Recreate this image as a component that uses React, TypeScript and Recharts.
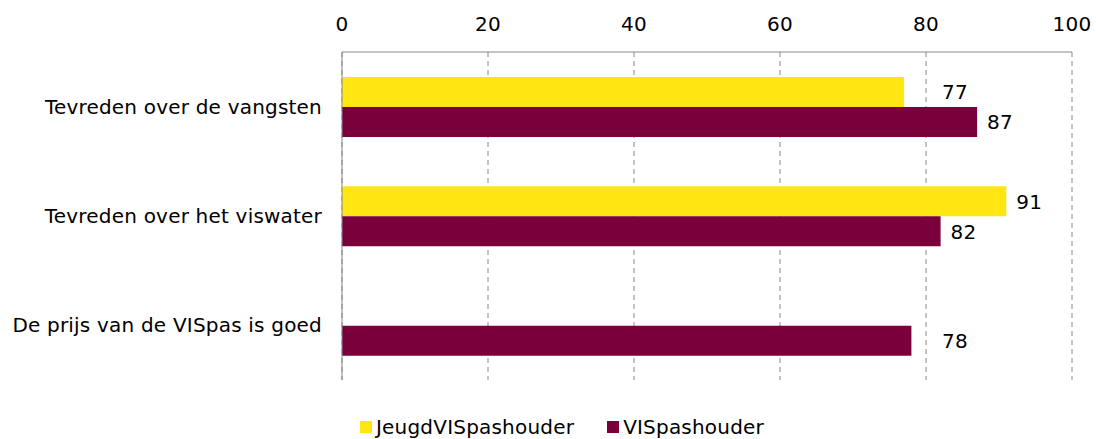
import React from "react";
import { BarChart, Bar, XAxis, YAxis, CartesianGrid, LabelList, Legend } from "recharts";

const categories = ["Tevreden over de vangsten", "Tevreden over het viswater", "De prijs van de VISpas is goed"];
const jeugdValues: (number | null)[] = [77, 91, null];
const visValues: number[] = [87, 82, 78];
const xTicks = [0, 20, 40, 60, 80, 100];
const seriesNames = ["JeugdVISpashouder", "VISpashouder"];
const colors = ["#FFE512", "#7A003C"];

const data = categories.map((c, i) => ({ name: c, jeugd: jeugdValues[i], vis: visValues[i] }));

const FONT = "'DejaVu Sans', Verdana, sans-serif";
const FS = 20;
const LS = "0.2px";

const ValueLabel = (props: any) => {
  const { x, y, width, height, value } = props;
  if (value === null || value === undefined) return null;
  const ppu = width / value;
  const textW = String(value).length * 12.8;
  let start = x + width + 10;
  for (const t of xTicks) {
    const gx = x + t * ppu;
    if (start < gx + 3 && start + textW > gx - 3) start = gx + 16;
  }
  return (
    <text x={start} y={y + height / 2} dy="0.36em" fontSize={FS} fontFamily={FONT} letterSpacing={LS} fill="#000">
      {value}
    </text>
  );
};

const LegendContent = () => (
  <div style={{ display: "flex", fontFamily: FONT, fontSize: FS, letterSpacing: LS, color: "#000", paddingLeft: 360, lineHeight: "24px" }}>
    {seriesNames.map((n, i) => (
      <div key={n} style={{ display: "flex", alignItems: "center", marginRight: 33 }}>
        <span style={{ display: "inline-block", width: 12, height: 12, background: colors[i], marginRight: 4 }} />
        <span>{n}</span>
      </div>
    ))}
  </div>
);

export default function App() {
  return (
    <div style={{ position: "absolute", left: 0, top: 0, background: "#fff", width: 1096, height: 439, overflow: "hidden" }}>
      <BarChart
        width={1096}
        height={439}
        data={data}
        layout="vertical"
        margin={{ top: 22, right: 24, bottom: 35, left: 0 }}
        barGap={0}
        barSize={30}
      >
        <CartesianGrid horizontal={false} vertical={true} stroke="#888" strokeDasharray="5 4" />
        <XAxis
          type="number"
          orientation="top"
          domain={[0, 100]}
          ticks={xTicks}
          tickLine={false}
          tickSize={0}
          tickMargin={21}
          axisLine={{ stroke: "#888" }}
          tick={{ fontSize: FS, fontFamily: FONT, fill: "#000", letterSpacing: LS }}
          height={30}
        />
        <YAxis
          type="category"
          dataKey="name"
          width={342}
          tickLine={false}
          tickSize={0}
          tickMargin={20}
          axisLine={{ stroke: "#888" }}
          tick={{ fontSize: FS, fontFamily: FONT, fill: "#000", letterSpacing: LS }}
        />
        <Legend
          verticalAlign="bottom"
          content={<LegendContent />}
          wrapperStyle={{ left: 0, width: 1096, height: 24, bottom: 0 }}
        />
        <Bar dataKey="jeugd" name={seriesNames[0]} fill={colors[0]} isAnimationActive={false}>
          <LabelList dataKey="jeugd" content={<ValueLabel />} />
        </Bar>
        <Bar dataKey="vis" name={seriesNames[1]} fill={colors[1]} isAnimationActive={false}>
          <LabelList dataKey="vis" content={<ValueLabel />} />
        </Bar>
      </BarChart>
    </div>
  );
}
